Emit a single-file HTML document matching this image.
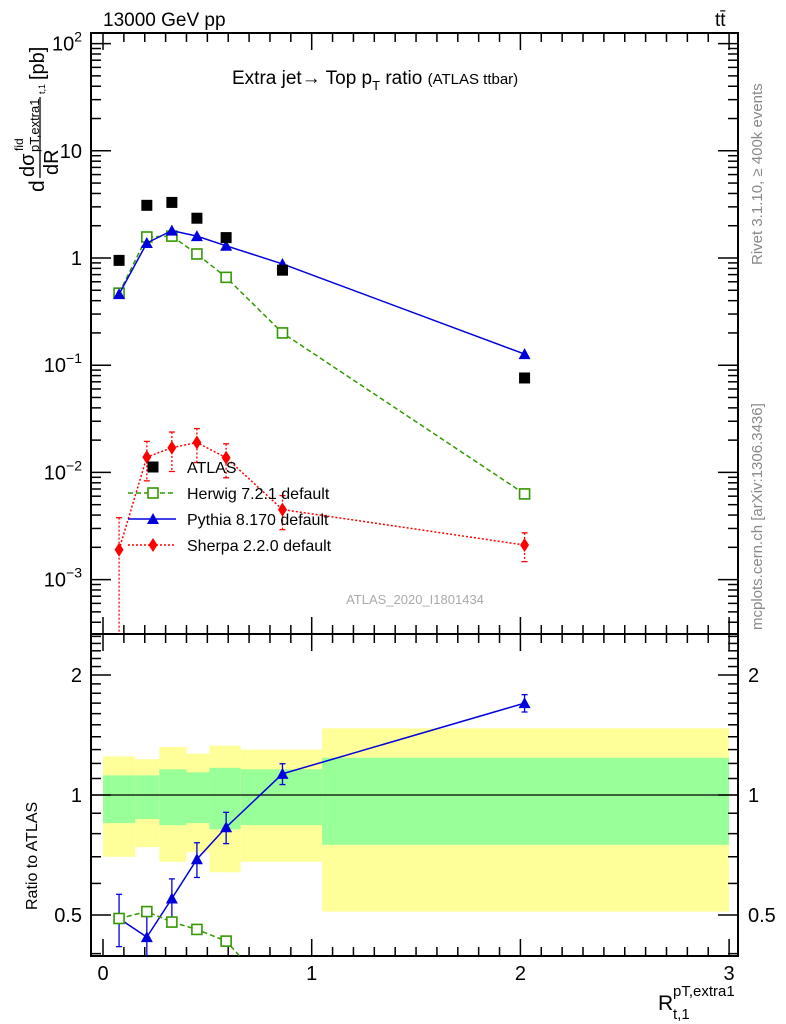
<!DOCTYPE html>
<html><head><meta charset="utf-8"><style>
html,body{margin:0;padding:0;background:#fff}
svg{display:block;font-family:"Liberation Sans",sans-serif}
</style></head><body>
<svg id="c" width="786" height="1024" viewBox="0 0 786 1024">
<text x="103" y="26" font-size="19">13000 GeV pp</text>
<text x="715" y="26" font-size="19">tt̄</text>
<text x="232" y="84" font-size="19">Extra jet→ Top p<tspan font-size="13" dy="6">T</tspan><tspan dy="-6"> ratio </tspan><tspan font-size="15">(ATLAS ttbar)</tspan></text>
<text transform="translate(762,265) rotate(-90)" font-size="15" fill="#888">Rivet 3.1.10, ≥ 400k events</text>
<text transform="translate(762,630) rotate(-90)" font-size="15" fill="#888">mcplots.cern.ch [arXiv:1306.3436]</text>
<text x="415" y="604" font-size="13" fill="#aaa" text-anchor="middle">ATLAS_2020_I1801434</text>
<g transform="translate(44,192) rotate(-90)">
<text x="0" y="0" font-size="21">d</text>
<text x="15" y="-10" font-size="20">dσ</text><text x="41" y="-21" font-size="12">fid</text><text x="40" y="-5" font-size="13">pT,extra1</text><text x="98" y="1" font-size="9">t,1</text>
<line x1="14" y1="-4" x2="95" y2="-4" stroke="#000" stroke-width="1.3"/>
<text x="17" y="14" font-size="20">dR</text>
<text x="112" y="0" font-size="20">[pb]</text>
</g>
<text transform="translate(37,910) rotate(-90)" font-size="16">Ratio to ATLAS</text>
<text x="658" y="1010" font-size="21">R</text>
<text x="673" y="996" font-size="15">pT,extra1</text>
<text x="673" y="1019" font-size="15">t,1</text>
<g id="g"></g>
</svg>
<script>
const xs=[0.077,0.21,0.33,0.45,0.59,0.86,2.02];
const atlas=[0.95,3.1,3.3,2.35,1.55,0.77,0.076];
const herwig=[0.47,1.57,1.6,1.09,0.66,0.2,0.0063];
const pythia=[0.46,1.38,1.8,1.6,1.3,0.88,0.127];
const sherpa=[0.0019,0.0139,0.017,0.019,0.0137,0.0045,0.0021];
const binEdges=[0,0.155,0.27,0.40,0.51,0.66,1.05,3.0];
const yelLo=[0.70,0.74,0.68,0.72,0.64,0.68,0.51];
const grnLo=[0.85,0.87,0.84,0.85,0.82,0.84,0.75];
const grnHi=[1.12,1.12,1.16,1.14,1.17,1.16,1.24];
const yelHi=[1.25,1.23,1.32,1.27,1.33,1.30,1.47];
const rPythia=[0.49,0.44,0.55,0.69,0.83,1.13,1.70];
const rHerwig=[0.49,0.51,0.48,0.46,0.43];
const yTickExp=[2,1,0,-1,-2,-3];
const rTicks=[0.5,1,2];
const xTicks=[0,1,2,3];

const X=v=>103+v*208.7;
const Y=v=>258-107.2*Math.log10(v);
const R=v=>795-120*Math.log2(v);
const L=91,Rt=738,T=33,M=634,B=956;
const g=document.getElementById('g');
const NS='http://www.w3.org/2000/svg';
function el(t,a,p){const e=document.createElementNS(NS,t);for(const k in a)e.setAttribute(k,a[k]);(p||g).appendChild(e);return e;}

const bands=el('g',{});


for(let i=0;i<7;i++){
 const x1=X(binEdges[i]),x2=X(binEdges[i+1]);
 let r=el('rect',{x:x1,y:R(yelHi[i]),width:x2-x1,height:R(yelLo[i])-R(yelHi[i]),fill:'#ffff99'},bands);
 
 
 r=el('rect',{x:x1,y:R(grnHi[i]),width:x2-x1,height:R(grnLo[i])-R(grnHi[i]),fill:'#99ff99'},bands);
 
 
}
el('line',{x1:L,x2:Rt,y1:R(1),y2:R(1),stroke:'#000','stroke-width':1.2});

for(const [t,b] of [[T,M],[M,B]]){
 const f=el('rect',{x:L,y:t,width:Rt-L,height:b-t,fill:'none',stroke:'#000','stroke-width':2});
 
 
 for(let v=0;v<=3.0001;v+=0.1){
  const big=Math.abs(v-Math.round(v))<1e-6, h=big?17:9, x=X(v);
  el('line',{x1:x,x2:x,y1:b,y2:b-h,stroke:'#000','stroke-width':1.5});
  el('line',{x1:x,x2:x,y1:t,y2:t+h,stroke:'#000','stroke-width':1.5});
 }
}
for(let d=-4;d<=2;d++)for(let k=1;k<10;k++){
 const v=k*Math.pow(10,d),y=Y(v); if(y<T||y>M)continue;
 const h=k==1?20:10;
 el('line',{x1:L,x2:L+h,y1:y,y2:y,stroke:'#000','stroke-width':1.5});
 el('line',{x1:Rt,x2:Rt-h,y1:y,y2:y,stroke:'#000','stroke-width':1.5});
}
yTickExp.forEach(e=>{
 const y=Y(Math.pow(10,e))+7;
 let t=el('text',{x:82,y:y,'font-size':20,'text-anchor':'end'});
 if(e==1){t.textContent='10';}
 else if(e==0){t.textContent='1';}
 else{
  const a=el('tspan',{},t);a.textContent='10';
  const b=el('tspan',{'font-size':14,dy:-9},t);b.textContent=e<0?'−'+(-e):String(e);}
 
 });
for(let v=0.4;v<=2.6;v+=0.1){const y=R(v);if(y<M||y>B)continue;
 const big=[0.5,1,2].some(q=>Math.abs(q-v)<1e-6);const h=big?20:10;
 el('line',{x1:L,x2:L+h,y1:y,y2:y,stroke:'#000','stroke-width':1.5});
 el('line',{x1:Rt,x2:Rt-h,y1:y,y2:y,stroke:'#000','stroke-width':1.5});}
rTicks.forEach(v=>{
 let t=el('text',{x:82,y:R(v)+7,'font-size':20,'text-anchor':'end'});t.textContent=v;
 
 
 t=el('text',{x:748,y:R(v)+7,'font-size':20});t.textContent=v;
 
 });
xTicks.forEach(v=>{const t=el('text',{x:X(v),y:980,'font-size':20,'text-anchor':'middle'});t.textContent=v;
 
 });

const defs=el('defs',{});
const cp1=el('clipPath',{id:'cm'},defs);el('rect',{x:L,y:T,width:Rt-L,height:M-T},cp1);
const cp2=el('clipPath',{id:'cr'},defs);el('rect',{x:L,y:M,width:Rt-L,height:B-M},cp2);

function mk(shape,x,y,col,par,name){
 let e;
 if(shape=='sq')e=el('rect',{x:x-5.5,y:y-5.5,width:11,height:11,fill:'#000'},par);
 if(shape=='osq')e=el('rect',{x:x-5,y:y-5,width:10,height:10,fill:'#fff',stroke:col,'stroke-width':1.6},par);
 if(shape=='tri')e=el('polygon',{points:`${x},${y-6} ${x-6},${y+5} ${x+6},${y+5}`,fill:col},par);
 if(shape=='dia')e=el('polygon',{points:`${x},${y-7} ${x-4.5},${y} ${x},${y+7} ${x+4.5},${y}`,fill:col},par);
 
 
}
function series(vals,xv,F,col,dash,shape,clip,name,err){
 const s=el('g',{'clip-path':`url(#${clip})`});
 
 
 const pts=vals.map((v,i)=>[X(xv[i]),F(v)]);
 if(col!='#000'){
  const p=el('polyline',{points:pts.map(p=>p.join(',')).join(' '),fill:'none',stroke:col,'stroke-width':1.5,'stroke-dasharray':dash},s);
  
  
 }
 if(err)vals.forEach((v,i)=>{const x=X(xv[i]);const y1=F(v*(1+err[i])),y2=F(v*(1-err[i]));
  el('line',{x1:x,x2:x,y1:y1,y2:y2,stroke:col,'stroke-width':1.3,'stroke-dasharray':dash},s);
  el('line',{x1:x-3,x2:x+3,y1:y1,y2:y1,stroke:col,'stroke-width':1.3},s);
  el('line',{x1:x-3,x2:x+3,y1:y2,y2:y2,stroke:col,'stroke-width':1.3},s);});
 pts.forEach(p=>mk(shape,p[0],p[1],col,s,name+'-point'));
}
series(herwig,xs,Y,'#339900','5,3','osq','cm','herwig');
series(pythia,xs,Y,'#0000dd','','tri','cm','pythia');
series(sherpa,xs,Y,'#ff0000','2,2','dia','cm','sherpa',[0.99,0.4,0.4,0.35,0.35,0.35,0.3]);
series(atlas,xs,Y,'#000','','sq','cm','atlas');
series(rPythia,xs,R,'#0000dd','','tri','cr','pythia-ratio',[0.15,0.15,0.12,0.1,0.09,0.06,0.05]);
series(rHerwig.concat([0.3]),xs,R,'#339900','5,3','osq','cr','herwig-ratio');

const lg=el('g',{});


const items=[['ATLAS','#000','','sq'],['Herwig 7.2.1 default','#339900','5,3','osq'],['Pythia 8.170 default','#0000dd','','tri'],['Sherpa 2.2.0 default','#ff0000','2,2','dia']];
items.forEach((it,i)=>{const y=467+i*26;
 if(i>0)el('line',{x1:128,x2:176,y1:y,y2:y,stroke:it[1],'stroke-width':1.5,'stroke-dasharray':it[2]},lg);
 mk(it[3],153,y,it[1],lg,'legend-marker');
 const t=el('text',{x:187,y:y+6,'font-size':16},lg);t.textContent=it[0];
 
 });
</script>
</body></html>
